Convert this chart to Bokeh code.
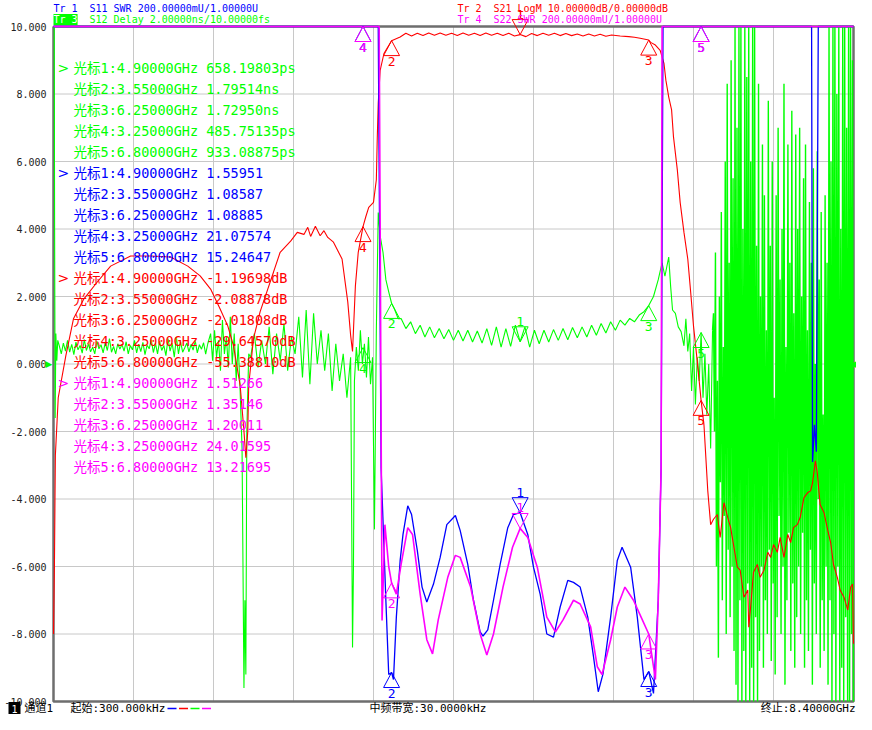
import numpy as np
from bokeh.plotting import figure
from bokeh.models import Range1d, Label
from bokeh.core.properties import value
from bokeh.embed import file_html
from bokeh.resources import INLINE

# ---------------- axis / sweep ----------------
F_START = 0.0003   # GHz (300 kHz)
F_STOP = 8.4       # GHz
Y_MIN, Y_MAX = -10.0, 10.0
Y_TICKS = [-10, -8, -6, -4, -2, 0, 2, 4, 6, 8, 10]
N_XDIV = 10

BLUE, RED, GREEN, MAG = "#0000ff", "#ff0000", "#00ff00", "#ff00ff"

# ---------------- markers ----------------
MK_FREQ = [4.90, 3.55, 6.25, 3.25, 6.80]                       # GHz
S11_MK = [1.55951, 1.08587, 1.08885, 21.07574, 15.24647]       # SWR
S21_MK = [-1.19698, -2.08878, -2.01808, -29.64570, -55.38810]  # dB
S12_MK_PS = [658.19803, 1795.14, 1729.50, 485.75135, 933.08875]  # ps
S22_MK = [1.51266, 1.35146, 1.20011, 24.01595, 13.21695]       # SWR

# ---------------- traces (frequency GHz, display value) ----------------
S21_PTS = [
    (0.0003, -8.0), (0.01, -6.0), (0.02, -2.7), (0.05, -1.0), (0.13, 0.25), (0.21, 1.34),
    (0.32, 1.93), (0.46, 2.43), (0.60, 2.90), (0.81, 3.20), (1.02, 3.20), (1.23, 3.17),
    (1.41, 2.90), (1.54, 2.61), (1.65, 2.22), (1.75, 1.63), (1.83, 1.13), (1.89, 0.54),
    (1.96, -0.63), (2.00, -1.99), (2.02, -2.78), (2.04, -2.0), (2.05, -0.63), (2.10, 0.75),
    (2.17, 1.55), (2.25, 2.22), (2.31, 2.72), (2.38, 3.31), (2.49, 3.64), (2.56, 3.90),
    (2.63, 3.84), (2.67, 4.05), (2.70, 3.78), (2.75, 4.08), (2.80, 3.80), (2.84, 3.95),
    (2.88, 3.75), (2.94, 3.61), (3.03, 3.11), (3.09, 1.84), (3.12, 0.85), (3.14, 0.37),
    (3.17, 2.31), (3.20, 3.31), (3.25, 4.07), (3.28, 4.37), (3.31, 4.64), (3.36, 4.79),
    (3.39, 5.46), (3.40, 6.73), (3.41, 7.73), (3.43, 8.70), (3.47, 9.20), (3.55, 9.58),
    (3.64, 9.69),
    (3.70, 9.80), (3.76, 9.72), (3.82, 9.80), (3.88, 9.73), (3.94, 9.81), (4.00, 9.74),
    (4.06, 9.81), (4.12, 9.74), (4.18, 9.80), (4.24, 9.73), (4.30, 9.81), (4.36, 9.74),
    (4.42, 9.80), (4.48, 9.73), (4.54, 9.81), (4.60, 9.74), (4.66, 9.80), (4.72, 9.73),
    (4.78, 9.80), (4.84, 9.72), (4.90, 9.76), (4.96, 9.70), (5.02, 9.79), (5.08, 9.73),
    (5.14, 9.80), (5.20, 9.74), (5.26, 9.80), (5.32, 9.73), (5.38, 9.79), (5.44, 9.73),
    (5.50, 9.78), (5.56, 9.72), (5.62, 9.78), (5.68, 9.72), (5.74, 9.77), (5.80, 9.71),
    (5.86, 9.75),
    (5.95, 9.72), (6.04, 9.70), (6.10, 9.68), (6.16, 9.65), (6.25, 9.60), (6.27, 9.53),
    (6.32, 9.45), (6.37, 9.29), (6.41, 8.91), (6.43, 8.41), (6.46, 7.91), (6.49, 7.53),
    (6.51, 6.73), (6.55, 5.76), (6.58, 4.79), (6.62, 3.90), (6.66, 3.11), (6.69, 2.14),
    (6.72, 1.13), (6.76, 0.07), (6.80, -1.08), (6.83, -1.81), (6.87, -3.76), (6.90, -4.76),
    (6.93, -4.6), (6.97, -4.46), (7.00, -5.14), (7.04, -4.11), (7.08, -4.55), (7.11, -4.85),
    (7.14, -5.35), (7.18, -6.02), (7.21, -6.11), (7.25, -6.91), (7.29, -6.70), (7.30, -7.8),
    (7.32, -7.2), (7.35, -6.17), (7.39, -5.94), (7.42, -6.32), (7.46, -6.11), (7.50, -5.58),
    (7.53, -5.73), (7.56, -5.35), (7.60, -5.58), (7.63, -5.14), (7.67, -5.73), (7.71, -5.05),
    (7.74, -5.29), (7.77, -4.85), (7.81, -4.76), (7.84, -4.55), (7.88, -3.96), (7.92, -3.81),
    (7.95, -3.76), (7.97, -3.52), (8.00, -2.87), (8.02, -3.23), (8.05, -4.17), (8.09, -4.40),
    (8.13, -4.93), (8.16, -5.29), (8.19, -5.94), (8.23, -6.32), (8.26, -6.70), (8.30, -6.91),
    (8.34, -7.29), (8.37, -6.61), (8.39, -6.52), (8.40, -8.29),
]

S11_PTS = [
    (0.0003, 10.0), (3.41, 10.0), (3.44, -3.08), (3.49, -7.0), (3.52, -9.2), (3.55, -9.14),
    (3.57, -9.35), (3.60, -7.5), (3.64, -5.82), (3.67, -5.05), (3.72, -4.20), (3.76, -4.46),
    (3.82, -5.52), (3.87, -6.61), (3.92, -7.05), (3.99, -6.52), (4.06, -5.73), (4.13, -4.76),
    (4.22, -4.49), (4.27, -4.93), (4.35, -5.94), (4.41, -7.0), (4.48, -7.94), (4.51, -8.06),
    (4.56, -7.88), (4.62, -7.0), (4.69, -5.94), (4.77, -4.85), (4.83, -4.46), (4.90, -4.405),
    (4.98, -5.05), (5.04, -6.02), (5.11, -6.82), (5.18, -8.0), (5.25, -8.09), (5.32, -7.20),
    (5.40, -6.41), (5.46, -6.47), (5.53, -6.61), (5.61, -7.50), (5.67, -8.67), (5.72, -9.71),
    (5.77, -9.18), (5.85, -7.50), (5.92, -5.82), (5.97, -5.43), (6.06, -6.02), (6.13, -7.50),
    (6.20, -9.35), (6.25, -9.11), (6.30, -9.76), (6.35, -7.0), (6.38, -3.08), (6.40, 10.0),
    (7.96, 10.0), (7.97, -2.9), (7.99, -1.8), (8.01, -2.6), (8.03, 10.0), (8.40, 10.0),
]

S22_PTS = [
    (0.0003, 10.0), (3.42, 10.0), (3.45, -7.6), (3.48, -4.76), (3.52, -6.0), (3.55, -6.485),
    (3.60, -6.82), (3.65, -5.94), (3.72, -4.85), (3.77, -5.05), (3.85, -6.82), (3.92, -8.17),
    (3.98, -8.59), (4.04, -7.58), (4.14, -6.32), (4.22, -5.67), (4.27, -5.73), (4.38, -6.61),
    (4.48, -8.00), (4.55, -8.62), (4.62, -8.00), (4.72, -6.61), (4.82, -5.43), (4.90, -4.87),
    (4.98, -5.14), (5.08, -6.02), (5.18, -7.50), (5.27, -7.94), (5.35, -7.58), (5.46, -7.00),
    (5.53, -7.11), (5.64, -7.79), (5.71, -8.97), (5.76, -9.20), (5.85, -8.17), (5.92, -7.20),
    (6.00, -6.61), (6.09, -7.00), (6.17, -7.5), (6.25, -8.0), (6.32, -9.35), (6.35, -7.00),
    (6.38, -3.08), (6.39, 10.0), (8.40, 10.0),
]

# S12 group delay (display = ns)
S12_START = [(0.0003, 10.0), (0.008, 10.0), (0.012, 4.0), (0.018, -1.6), (0.025, 0.9),
             (0.035, 0.1), (0.045, 0.7)]
S12_LOW_NOISE = [0.55, 0.30, 0.62, 0.38, 0.70, 0.35, 0.58, 0.28, 0.65, 0.42, 0.55, 0.32,
                 0.72, 0.40, 0.60, 0.36, 0.50, 0.30, 0.68, 0.45, 0.57, 0.33, 0.63, 0.40,
                 0.75, 0.35, 0.52, 0.30, 0.60, 0.44, 0.58, 0.38, 0.66, 0.30, 0.55, 0.42,
                 0.70, 0.33, 0.59, 0.37, 0.64, 0.28, 0.56, 0.45, 0.72, 0.34, 0.61, 0.30,
                 0.68, 0.40, 0.55, 0.25, 0.75, 0.38, 0.62, 0.20, 0.80, 0.30, 0.66, 0.35,
                 0.48, 0.62, 0.36, 0.58, 0.41, 0.69, 0.33, 0.57, 0.44, 0.63, 0.29, 0.60]
S12_MID_NOISE = [0.9, 0.1, 1.0, 0.2, 0.7, -0.2, 1.3, 0.3, 0.8, -0.1, 1.4, 0.0, 0.9, -0.5, 0.6, -0.8]
S12_DIP = [(1.98, -2.5), (2.00, -9.6), (2.01, -7.0), (2.02, -9.2), (2.03, -2.0), (2.05, 0.3)]
S12_OSC = [0.2, 0.9, -0.1, 0.7, 0.0, 1.1, -0.3, 0.9, 0.1, 1.2, -0.2, 0.8, 0.3, 1.4,
           -0.4, 1.6, -0.6, 1.5, 0.0, 1.0, -0.2, 0.9, -0.8, 0.6, -0.5, 0.3, -1.0, 0.2]
S12_DIP2 = [(3.14, -8.4), (3.15, -6.0), (3.16, -0.5)]
S12_OSC2 = [0.5, -0.2, 1.0, 0.0, 0.6, -0.4, 0.8, -0.6, 0.2]
S12_EDGE = [(3.37, -4.9), (3.38, -2.0), (3.39, 1.0), (3.41, 4.49), (3.43, 3.8), (3.46, 3.31),
            (3.49, 2.5), (3.52, 2.14), (3.55, 1.80), (3.58, 1.63), (3.62, 1.34)]
S12_PASS = [1.35, 1.05, 1.25, 0.90, 1.15, 0.80, 1.10, 0.78, 1.05, 0.75, 1.02, 0.70,
            1.00, 0.68, 1.00, 0.65, 0.98, 0.62, 1.05, 0.55, 1.10, 0.50, 1.05, 0.52,
            1.15, 0.66, 1.10, 0.50, 1.00, 0.60, 1.00, 0.65, 1.02, 0.70, 1.05, 0.72,
            1.08, 0.78, 1.10, 0.80, 1.15, 0.85, 1.20, 0.92, 1.25, 1.00]
S12_TAIL = [(5.95, 1.30), (6.00, 1.15), (6.05, 1.35), (6.10, 1.25), (6.15, 1.45), (6.20, 1.55),
            (6.25, 1.73), (6.30, 2.0), (6.35, 2.5), (6.39, 3.0), (6.42, 2.6), (6.46, 3.17),
            (6.48, 2.3), (6.50, 1.6), (6.53, 1.5), (6.56, 1.1), (6.59, 0.96), (6.62, 0.54),
            (6.64, 1.34), (6.66, 0.37), (6.68, 0.9), (6.70, -0.8), (6.72, 0.5), (6.74, -1.2),
            (6.76, 0.2), (6.78, -0.5), (6.80, 0.93), (6.82, -1.0), (6.84, 0.3), (6.86, -1.5),
            (6.88, 0.0), (6.90, -2.5), (6.92, 1.0)]
S12_STOP_HI = [1.5, 3.3, -0.5, 2.0, 4.5, 0.5, 6.0, 8.3, 3.0, 9.0, 5.5,
               10, 7.0, 10, 10, 4.0, 10, 8.5, 10, 6.0, 10, 10, 3.5,
               8.3, 2.0, 6.5, 5.0, 1.0, 7.8, 3.5, 6.0, -1.0, 5.0, 7.0, 2.5, 4.0, 8.3, 0.5, 6.5,
               3.0, 7.5, 1.5, 6.8, 4.0, 7.0, 2.0, 5.5,
               6.5, 1.0, 4.8, 3.0, 5.8, 0.0, 6.3, 2.5, 4.5, -1.5, 5.0,
               3.0, 10, 6.0, 10, 10, 8.0, 10, 4.0, 10, 10, 7.0, 10, 10, 9.0]
S12_STOP_LO = [-2.0, -6.0, -8.7, -3.5, -7.0, -4.5, -8.0, -5.5, -7.5, -6.0, -8.5,
               -9.5, -10, -7.0, -10, -8.5, -10, -6.5, -10, -9.0, -10, -7.5, -10,
               -8.5, -6.0, -9.0, -7.0, -8.0, -5.5, -8.8, -6.5, -9.2, -7.5, -4.5, -8.0, -6.0,
               -9.5, -7.0, -5.0, -8.5, -6.5, -9.0, -7.5, -6.0, -8.0, -5.0, -9.0,
               -7.0, -8.5, -5.5, -9.5, -6.5, -8.0, -4.0, -9.0, -7.0, -8.5, -6.0,
               -9.5, -7.0, -10, -8.0, -10, -6.0, -10, -9.0, -10, -7.5, -10, -10, -8.0, -10]


def sweep(f0, f1, vals):
    return list(zip(np.linspace(f0, f1, len(vals)), vals))


stop_vals = [v for pair in zip(S12_STOP_HI, S12_STOP_LO) for v in pair]
S12_PTS_A = (S12_START + sweep(0.06, 1.62, S12_LOW_NOISE) + sweep(1.65, 1.96, S12_MID_NOISE)
             + S12_DIP + sweep(2.07, 3.12, S12_OSC) + S12_DIP2 + sweep(3.18, 3.35, S12_OSC2)
             + S12_EDGE + sweep(3.65, 5.90, S12_PASS) + S12_TAIL)
S12_PTS_B = [S12_TAIL[-1]] + sweep(6.93, 8.40, stop_vals)


# instrument display scales (value -> screen grid units)
def swr_disp(v):      # 200 mU/div, ref 1.0 U at bottom line
    return min(Y_MAX, Y_MIN + (v - 1.0) / 0.2 * 2.0)


def db_disp(v):       # 10 dB/div, ref 0 dB at top line
    return Y_MAX + v / 10.0 * 2.0


def delay_disp(ps):   # 2 ns/div, ref at centre
    return (ps / 1000.0) / 2.0 * 2.0


def fmt_delay(ps):
    return f"{ps:.5f}ps" if ps < 1000 else f"{ps / 1000:.5f}ns"


# ---------------- figure geometry (pixels) ----------------
W, H = 856, 714
ML, MT = 53, 26            # top-left corner of the graticule
GW, GH = 800, 675          # graticule size
XPX = (F_STOP - F_START) / GW
YPX = (Y_MAX - Y_MIN) / GH
MONO = "DejaVu Sans Mono, Noto Sans CJK SC"

x_lo = F_START - ML * XPX
x_hi = F_STOP + (W - ML - GW) * XPX
y_hi = Y_MAX + MT * YPX
y_lo = Y_MIN - (H - MT - GH) * YPX

p = figure(frame_width=W, frame_height=H, x_range=Range1d(x_lo, x_hi), y_range=Range1d(y_lo, y_hi),
           x_axis_type=None, y_axis_type=None, min_border=0,
           output_backend="svg", toolbar_location=None,
           background_fill_color="white", border_fill_color="white")
p.outline_line_color = None
p.grid.visible = False


def X(px):
    return F_START + (px - ML) * XPX


def Y(py):
    return Y_MAX - (py - MT) * YPX


# graticule
x_grid = list(np.linspace(F_START, F_STOP, N_XDIV + 1)[1:-1])
p.segment(x0=x_grid, y0=[Y_MIN] * len(x_grid), x1=x_grid, y1=[Y_MAX] * len(x_grid),
          line_color="#c8c8c8", line_width=1)
y_grid = Y_TICKS[1:-1]
p.segment(x0=[F_START] * len(y_grid), y0=y_grid, x1=[F_STOP] * len(y_grid), y1=y_grid,
          line_color="#c8c8c8", line_width=1)
p.line([F_START, F_START, F_STOP, F_STOP, F_START], [Y_MAX, Y_MIN, Y_MIN, Y_MAX, Y_MAX],
       line_color="#6e6e6e", line_width=2.5)

# y scale labels
p.text(x=[X(ML - 7)] * len(Y_TICKS), y=Y_TICKS, text=[f"{t:.3f}" for t in Y_TICKS],
       text_align="right", text_baseline="middle", text_font=value("DejaVu Sans Mono"),
       text_font_size="10px", text_color="#222222")

# traces
for pts, col, lw in [(S12_PTS_A, GREEN, 1.1), (S12_PTS_B, GREEN, 1.4), (S21_PTS, RED, 1.1),
                     (S11_PTS, BLUE, 1.3), (S22_PTS, MAG, 1.6)]:
    xs, ys = zip(*pts)
    p.line(list(xs), list(ys), line_color=col, line_width=lw)


def put(text, px, py, color, size, align="left", baseline="middle", bg=None, font=MONO):
    kw = {}
    if bg is not None:
        kw["background_fill_color"] = bg
    p.add_layout(Label(x=X(px), y=Y(py), text=text, text_color=color,
                       text_font_size=f"{size}px", text_font=font,
                       text_align=align, text_baseline=baseline, **kw))


# marker triangles and numbers
TRI_HALF_W, TRI_H = 8, 15
mk_sets = [
    (GREEN, [delay_disp(v) for v in S12_MK_PS]),
    (RED, [db_disp(v) for v in S21_MK]),
    (BLUE, [swr_disp(v) for v in S11_MK]),
    (MAG, [swr_disp(v) for v in S22_MK]),
]
for col, ds in mk_sets:
    txs, tys = [], []
    for i, (f, d) in enumerate(zip(MK_FREQ, ds)):
        sgn = 1 if i == 0 else -1
        txs.append([f - TRI_HALF_W * XPX, f + TRI_HALF_W * XPX, f])
        tys.append([d + sgn * TRI_H * YPX, d + sgn * TRI_H * YPX, d])
        if i == 0:
            ly, base = d + (TRI_H + 1) * YPX, "bottom"
        else:
            ly, base = d - (TRI_H + 1) * YPX, "top"
        p.add_layout(Label(x=f, y=ly, text=str(i + 1), text_color=col, text_font_size="13px",
                           text_font="DejaVu Sans Mono", text_align="center", text_baseline=base))
    p.patches(txs, tys, fill_alpha=0, line_color=col, line_width=1)

# marker readouts
readouts = [
    (GREEN, [fmt_delay(v) for v in S12_MK_PS]),
    (BLUE, [f"{v:.5f}" for v in S11_MK]),
    (RED, [f"{v:.5f}dB" for v in S21_MK]),
    (MAG, [f"{v:.5f}" for v in S22_MK]),
]
row = 0
for col, vals in readouts:
    for i, (f, v) in enumerate(zip(MK_FREQ, vals)):
        py = 67 + 21 * row
        if i == 0:
            put(">", 57, py, col, 14, font="DejaVu Sans")
        put(f"光标{i + 1}:{f:.5f}GHz {v}", 73, py, col, 13.5)
        row += 1

# header (trace settings)
HEADER = [
    ("Tr 1", "S11 SWR 200.00000mU/1.00000U", BLUE, ML, 8, None),
    ("Tr 3", "S12 Delay 2.00000ns/10.00000fs", GREEN, ML, 19, GREEN),
    ("Tr 2", "S21 LogM 10.00000dB/0.00000dB", RED, 457, 8, None),
    ("Tr 4", "S22 SWR 200.00000mU/1.00000U", MAG, 457, 19, None),
]
for tr, desc, col, hx, hy, bg in HEADER:
    if bg is None:
        put(tr, hx, hy, col, 10)
    else:
        put(tr, hx, hy, "#ffffff", 10, bg=bg)
    put(desc, hx + 36, hy, col, 10)

# reference-level arrows of the active trace
p.add_layout(Label(x=X(45), y=0.0, text="▶", text_color=GREEN, text_font_size="9px",
                   text_font="DejaVu Sans", text_align="left", text_baseline="middle"))
p.add_layout(Label(x=X(856), y=0.0, text="◀", text_color=GREEN, text_font_size="9px",
                   text_font="DejaVu Sans", text_align="right", text_baseline="middle"))

# footer
FOOT_Y = 708
p.quad(left=[X(8)], right=[X(20)], top=[Y(FOOT_Y - 6.5)], bottom=[Y(FOOT_Y + 6.5)],
       fill_color="#000000", line_color=None)
put("1", 14, FOOT_Y, "#ffffff", 10, align="center")
put("通道1", 24, FOOT_Y, "#000000", 11)
put("起始:300.000kHz", 70, FOOT_Y, "#000000", 11)
for k, c in enumerate([BLUE, RED, GREEN, MAG]):
    x0 = 167 + 11.5 * k
    p.segment(x0=[X(x0)], y0=[Y(FOOT_Y)], x1=[X(x0 + 9)], y1=[Y(FOOT_Y)],
              line_color=c, line_width=1.5)
put("中频带宽:30.0000kHz", 369, FOOT_Y, "#000000", 11)
put("终止:8.40000GHz", 855, FOOT_Y, "#000000", 11, align="right")

open("out.html", "w", encoding="utf-8").write(file_html(p, INLINE))
